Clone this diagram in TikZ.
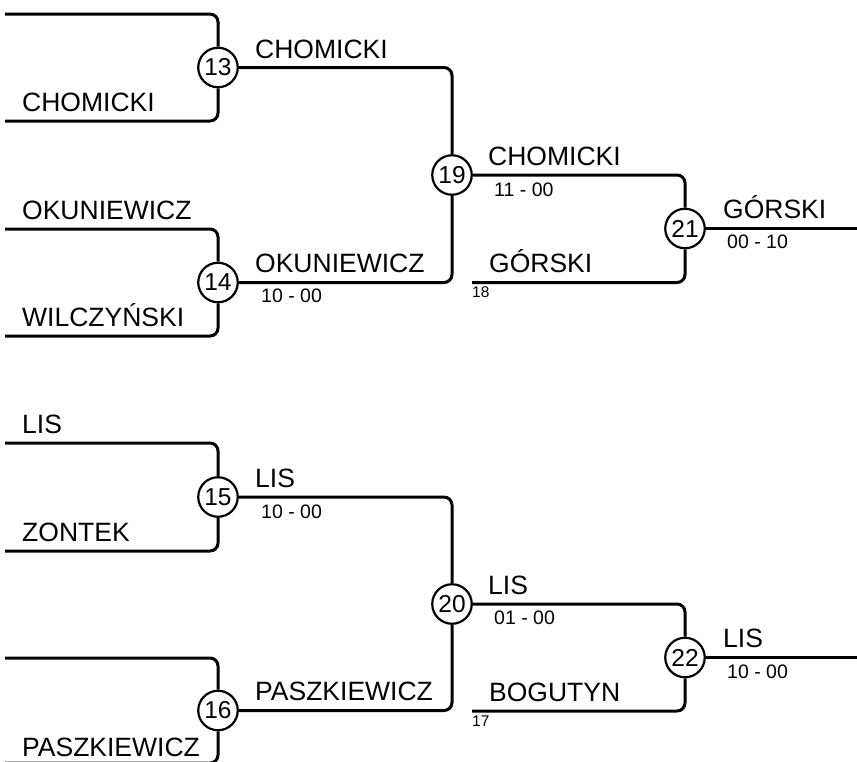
\documentclass[tikz,border=0pt]{standalone}
\usepackage{fontspec}
\setmainfont{Liberation Sans}
\begin{document}
\begin{tikzpicture}[x=1pt,y=-1pt,
  wire/.style={line width=3pt, rounded corners=8pt},
  match/.style={circle, draw, line width=2.2pt, minimum size=39.5pt, inner sep=0pt, fill=white, font=\fontsize{24.5}{27}\selectfont},
  player/.style={anchor=base west, inner sep=0pt, font=\fontsize{26.5}{30}\selectfont},
  score/.style={anchor=base west, inner sep=0pt, font=\fontsize{19.5}{22}\selectfont},
  seed/.style={anchor=base west, inner sep=0pt, font=\fontsize{15.5}{17}\selectfont}]
\clip (0,0) rectangle (857,761);
\fill[white] (0,0) rectangle (857,761);

% matches
\node[match] (m13) at (218,67.5) {13};
\node[match] (m14) at (218,282.5) {14};
\node[match] (m19) at (452,175) {19};
\node[match] (m21) at (685,228.5) {21};
\node[match] (m15) at (218,497) {15};
\node[match] (m16) at (218,710.5) {16};
\node[match] (m20) at (452,604) {20};
\node[match] (m22) at (685,657.5) {22};

% free ends
\coordinate (a13) at (5,14);
\coordinate (b13) at (5,121);
\coordinate (a14) at (5,229);
\coordinate (b14) at (5,336);
\coordinate (a15) at (5,443);
\coordinate (b15) at (5,551);
\coordinate (a16) at (5,658);
\coordinate (b16) at (5,763);
\coordinate (f18) at (472,282.5);
\coordinate (f17) at (472,711);
\coordinate (e21) at (860,228.5);
\coordinate (e22) at (860,657.5);

% connectors
\draw[wire] (a13) -| (m13);
\draw[wire] (b13) -| (m13);
\draw[wire] (a14) -| (m14);
\draw[wire] (b14) -| (m14);
\draw[wire] (m13) -| (m19);
\draw[wire] (m14) -| (m19);
\draw[wire] (m19) -| (m21);
\draw[wire] (f18) -| (m21);
\draw[wire] (m21) -- (e21);

\draw[wire] (a15) -| (m15);
\draw[wire] (b15) -| (m15);
\draw[wire] (a16) -| (m16);
\draw[wire] (b16) -| (m16);
\draw[wire] (m15) -| (m20);
\draw[wire] (m16) -| (m20);
\draw[wire] (m20) -| (m22);
\draw[wire] (f17) -| (m22);
\draw[wire] (m22) -- (e22);

% labels top half
\node[player] (t1) at (22,111) {CHOMICKI};
\node[player] (t2) at (22,219) {OKUNIEWICZ};
\node[player] (t3) at (22,326) {WILCZYŃSKI};
\node[player] (t4) at (255,58) {CHOMICKI};
\node[player] (t5) at (255,272.5) {OKUNIEWICZ};
\node[score] (s14) at (261,302) {10 - 00};
\node[player] (t6) at (488,165) {CHOMICKI};
\node[score] (s19) at (494,196) {11 - 00};
\node[player] (t7) at (489,272) {GÓRSKI};
\node[seed] (n18) at (472,297) {18};
\node[player] (t8) at (723,218.5) {GÓRSKI};
\node[score] (s21) at (727,248.5) {00 - 10};

% labels bottom half
\node[player] (u1) at (22,433) {LIS};
\node[player] (u2) at (22,541) {ZONTEK};
\node[player] (u3) at (22,756.5) {PASZKIEWICZ};
\node[player] (u4) at (255,487) {LIS};
\node[score] (s15) at (261,518) {10 - 00};
\node[player] (u5) at (255,700.5) {PASZKIEWICZ};
\node[player] (u6) at (488,594) {LIS};
\node[score] (s20) at (494,624.5) {01 - 00};
\node[player] (u7) at (489,701) {BOGUTYN};
\node[seed] (n17) at (472,726) {17};
\node[player] (u8) at (723,647.5) {LIS};
\node[score] (s22) at (727,678) {10 - 00};
\end{tikzpicture}
\end{document}
